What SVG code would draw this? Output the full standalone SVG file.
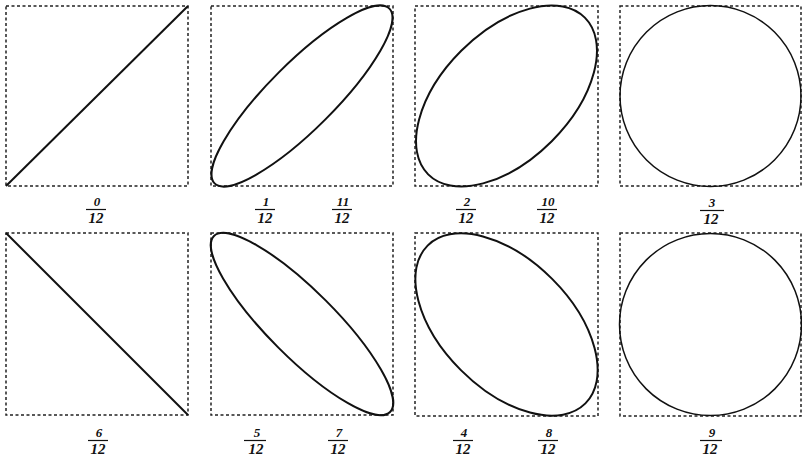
<svg xmlns="http://www.w3.org/2000/svg" width="802" height="460" viewBox="0 0 802 460">
<style>
.box{fill:none;stroke:#222;stroke-width:1.5;stroke-dasharray:3 2.5}
.crv{fill:none;stroke:#111;stroke-width:2}
.thin{fill:none;stroke:#111;stroke-width:1.5}
.num{font-family:"Liberation Serif",serif;font-weight:bold;font-style:italic;font-size:13px;text-anchor:middle;fill:#111}
.den{font-family:"Liberation Serif",serif;font-weight:bold;font-style:italic;font-size:15px;text-anchor:middle;fill:#111}
.bar{stroke:#111;stroke-width:1.2}
</style>
<rect width="802" height="460" fill="#fff"/>
<g id="panel-0">
<rect class="box" x="6" y="6" width="182" height="180"/>
<line class="crv" x1="6" y1="186" x2="188" y2="6"/>
</g>
<g id="panel-1">
<rect class="box" x="211" y="6" width="182" height="180"/>
<ellipse class="crv" cx="302" cy="96" rx="123.6" ry="33.1" transform="rotate(-45 302 96)"/>
</g>
<g id="panel-2">
<rect class="box" x="415" y="6" width="183" height="180"/>
<ellipse class="crv" cx="506.5" cy="96" rx="110.8" ry="64" transform="rotate(-45 506.5 96)"/>
</g>
<g id="panel-3">
<rect class="box" x="620" y="6" width="181" height="180"/>
<circle class="thin" cx="710.5" cy="96" r="90.5"/>
</g>
<g id="panel-6">
<rect class="box" x="6" y="233" width="182" height="182"/>
<line class="crv" x1="6" y1="233" x2="188" y2="415"/>
</g>
<g id="panel-5">
<rect class="box" x="211" y="233" width="182" height="182"/>
<ellipse class="crv" cx="302" cy="324" rx="124.5" ry="33.4" transform="rotate(45 302 324)"/>
</g>
<g id="panel-4">
<rect class="box" x="415" y="233" width="183" height="183"/>
<ellipse class="crv" cx="506.5" cy="324.5" rx="111.6" ry="64.5" transform="rotate(45 506.5 324.5)"/>
</g>
<g id="panel-9">
<rect class="box" x="620" y="233" width="181" height="183"/>
<circle class="thin" cx="710.5" cy="324.5" r="91"/>
</g>
<g id="labels">
<text class="num" x="97" y="206">0</text><line class="bar" x1="86" y1="209.5" x2="106" y2="209.5"/><text class="den" x="96" y="223">12</text>
<text class="num" x="266" y="206">1</text><line class="bar" x1="255" y1="209.5" x2="275" y2="209.5"/><text class="den" x="265" y="223">12</text>
<text class="num" x="343" y="206">11</text><line class="bar" x1="332" y1="209.5" x2="352" y2="209.5"/><text class="den" x="342" y="223">12</text>
<text class="num" x="467" y="206">2</text><line class="bar" x1="456" y1="209.5" x2="476" y2="209.5"/><text class="den" x="466" y="223">12</text>
<text class="num" x="548" y="206">10</text><line class="bar" x1="537" y1="209.5" x2="557" y2="209.5"/><text class="den" x="547" y="223">12</text>
<text class="num" x="712" y="207">3</text><line class="bar" x1="700" y1="210.5" x2="724" y2="210.5"/><text class="den" x="711" y="224">12</text>
<text class="num" x="99" y="437">6</text><line class="bar" x1="88" y1="440.5" x2="108" y2="440.5"/><text class="den" x="98" y="454">12</text>
<text class="num" x="257" y="437">5</text><line class="bar" x1="244" y1="440.5" x2="266" y2="440.5"/><text class="den" x="256" y="454">12</text>
<text class="num" x="339" y="437">7</text><line class="bar" x1="328" y1="440.5" x2="348" y2="440.5"/><text class="den" x="338" y="454">12</text>
<text class="num" x="464" y="437">4</text><line class="bar" x1="453" y1="440.5" x2="473" y2="440.5"/><text class="den" x="463" y="454">12</text>
<text class="num" x="549" y="437">8</text><line class="bar" x1="538" y1="440.5" x2="558" y2="440.5"/><text class="den" x="548" y="454">12</text>
<text class="num" x="712" y="437">9</text><line class="bar" x1="700" y1="440.5" x2="722" y2="440.5"/><text class="den" x="710" y="454">12</text>
</g>
</svg>
